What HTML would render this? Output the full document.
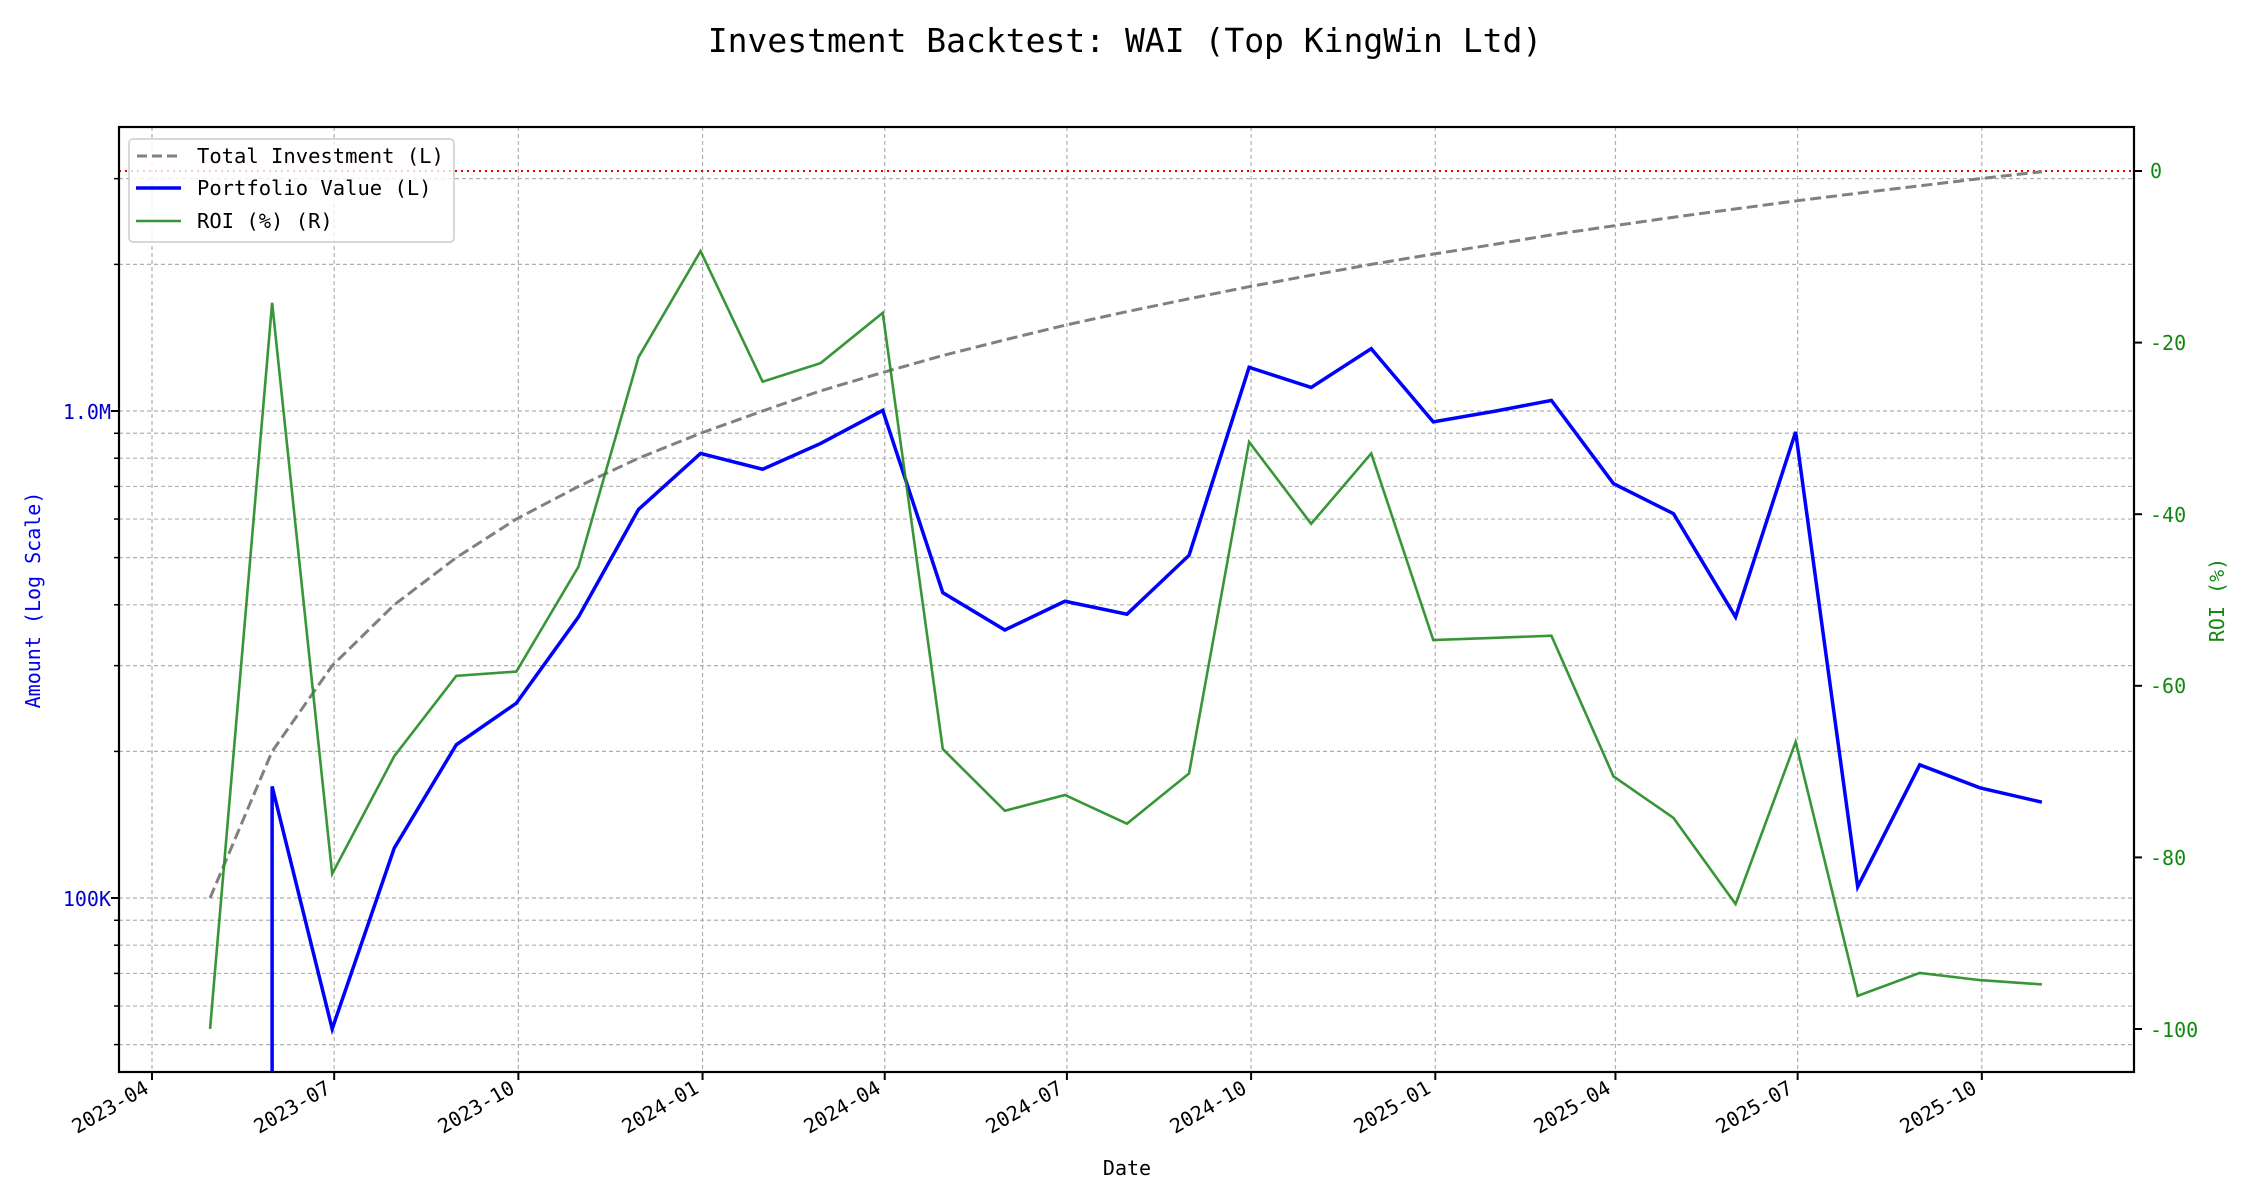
<!DOCTYPE html>
<html><head><meta charset="utf-8"><style>
html,body{margin:0;padding:0;background:#fff;}
svg{display:block;font-family:"DejaVu Sans Mono","Liberation Mono",monospace;}
</style></head><body>
<svg id="s" width="2250" height="1200" xmlns="http://www.w3.org/2000/svg">
<defs><clipPath id="c"><rect x="119" y="127" width="2015" height="945"/></clipPath></defs>
<g id="grid"></g>
<line x1="119" y1="171" x2="2134" y2="171" stroke="#e00000" stroke-width="2" stroke-dasharray="2,4"/>
<g id="series" clip-path="url(#c)"></g>
<rect x="119" y="127" width="2015" height="945" fill="none" stroke="#000" stroke-width="2.2"/>
<g id="ticks"></g>
<text x="1125" y="52" font-size="33" text-anchor="middle" fill="#000">Investment Backtest: WAI (Top KingWin Ltd)</text>
<text x="1127" y="1175" font-size="20" text-anchor="middle" fill="#000">Date</text>
<text transform="translate(40,600) rotate(-90)" font-size="20" text-anchor="middle" fill="#0000ee">Amount (Log Scale)</text>
<text transform="translate(2224,600) rotate(-90)" font-size="20" text-anchor="middle" fill="#118811">ROI (%)</text>
<text x="111" y="419" font-size="20" text-anchor="end" fill="#0000cc">1.0M</text>
<text x="111" y="906" font-size="20" text-anchor="end" fill="#0000cc">100K</text>
<g font-size="20" fill="#118811">
<text x="2150" y="178">0</text>
<text x="2150" y="350">-20</text>
<text x="2150" y="522">-40</text>
<text x="2150" y="693">-60</text>
<text x="2150" y="865">-80</text>
<text x="2150" y="1037">-100</text>
</g>
<g font-size="20" fill="#000">
<text transform="translate(150,1092) rotate(-30)" text-anchor="end">2023-04</text>
<text transform="translate(332,1092) rotate(-30)" text-anchor="end">2023-07</text>
<text transform="translate(516,1092) rotate(-30)" text-anchor="end">2023-10</text>
<text transform="translate(700,1092) rotate(-30)" text-anchor="end">2024-01</text>
<text transform="translate(882,1092) rotate(-30)" text-anchor="end">2024-04</text>
<text transform="translate(1064,1092) rotate(-30)" text-anchor="end">2024-07</text>
<text transform="translate(1248,1092) rotate(-30)" text-anchor="end">2024-10</text>
<text transform="translate(1432,1092) rotate(-30)" text-anchor="end">2025-01</text>
<text transform="translate(1612,1092) rotate(-30)" text-anchor="end">2025-04</text>
<text transform="translate(1794,1092) rotate(-30)" text-anchor="end">2025-07</text>
<text transform="translate(1978,1092) rotate(-30)" text-anchor="end">2025-10</text>
</g>
<rect x="129" y="139" width="325" height="103" rx="4" fill="#fff" fill-opacity="0.8" stroke="#ccc" stroke-width="1.5"/>
<line x1="137" y1="156" x2="181" y2="156" stroke="#808080" stroke-width="3" stroke-dasharray="10,5"/>
<line x1="136" y1="188" x2="181" y2="188" stroke="#0000ff" stroke-width="3.5"/>
<line x1="136" y1="221" x2="181" y2="221" stroke="#228b22" stroke-opacity="0.9" stroke-width="2.5"/>
<g font-size="20.5" fill="#000">
<text x="197" y="163">Total Investment (L)</text>
<text x="197" y="195">Portfolio Value (L)</text>
<text x="197" y="228">ROI (%) (R)</text>
</g>
</svg>
<script>
var NS="http://www.w3.org/2000/svg";
function el(p,t,a){var e=document.createElementNS(NS,t);for(var k in a)e.setAttribute(k,a[k]);document.getElementById(p).appendChild(e);return e;}
function ly(v){return 898-487*Math.log10(v/1e5);}
var base=Date.UTC(2023,3,1);
function dx(y,m,d){return 152+2.002*(Date.UTC(y,m,d)-base)/86400000;}
// grid verticals
var tk=[[2023,3],[2023,6],[2023,9],[2024,0],[2024,3],[2024,6],[2024,9],[2025,0],[2025,3],[2025,6],[2025,9]];
tk.forEach(function(t){var x=dx(t[0],t[1],1);el("grid","line",{x1:x,x2:x,y1:127,y2:1072,stroke:"#b0b0b0","stroke-width":1.2,"stroke-dasharray":"4,3"});el("ticks","line",{x1:x,x2:x,y1:1072,y2:1080,stroke:"#000","stroke-width":2});});
// horizontal log grid
var vals=[];[1e4,1e5,1e6].forEach(function(b){for(var i=1;i<10;i++)vals.push(b*i);});
vals.forEach(function(v){var y=ly(v);if(y<127||y>1072)return;el("grid","line",{x1:119,x2:2134,y1:y,y2:y,stroke:"#b0b0b0","stroke-width":1.2,"stroke-dasharray":"4,3"});var maj=(v==1e5||v==1e6);el("ticks","line",{x1:maj?111:114,x2:119,y1:y,y2:y,stroke:"#000","stroke-width":maj?2:1.5});});
for(var r=0;r>=-100;r-=20){var y=171-8.58*r;el("ticks","line",{x1:2134,x2:2142,y1:y,y2:y,stroke:"#000","stroke-width":2});}
// month-end dates
var X=[];for(var i=0;i<31;i++){var m=3+i;var y=2023+Math.floor(m/12);m=m%12;X.push(dx(y,m+1,0));}
var inv="",i;for(i=0;i<31;i++)inv+=X[i]+","+ly(1e5*(i+1))+" ";
el("series","polyline",{points:inv,fill:"none",stroke:"#808080","stroke-width":3,"stroke-dasharray":"11,5"});
var B=[null,548,717,591,519,490,430,355,316,327,309,286,413,439,419,428,387,256,270,243,294,286.5,279,337,358,430,301,618,533,549,559];
var bp=X[1]+",1100 ";for(i=1;i<31;i++)bp+=X[i]+","+(B[i]*1.435)+" ";
el("series","polyline",{points:bp,fill:"none",stroke:"#0000ff","stroke-width":3.5,"stroke-linejoin":"miter"});
var G=[717,211,609,527,471,468,395,249,175,266,253,218,522,565,554,574,539,308,365,316,446,444.5,443,541,570,630,517,694,678,683,686];
var gp="";for(i=0;i<31;i++)gp+=X[i]+","+(G[i]*1.435)+" ";
el("series","polyline",{points:gp,fill:"none",stroke:"#228b22","stroke-opacity":0.9,"stroke-width":2.6});
</script>
</body></html>
